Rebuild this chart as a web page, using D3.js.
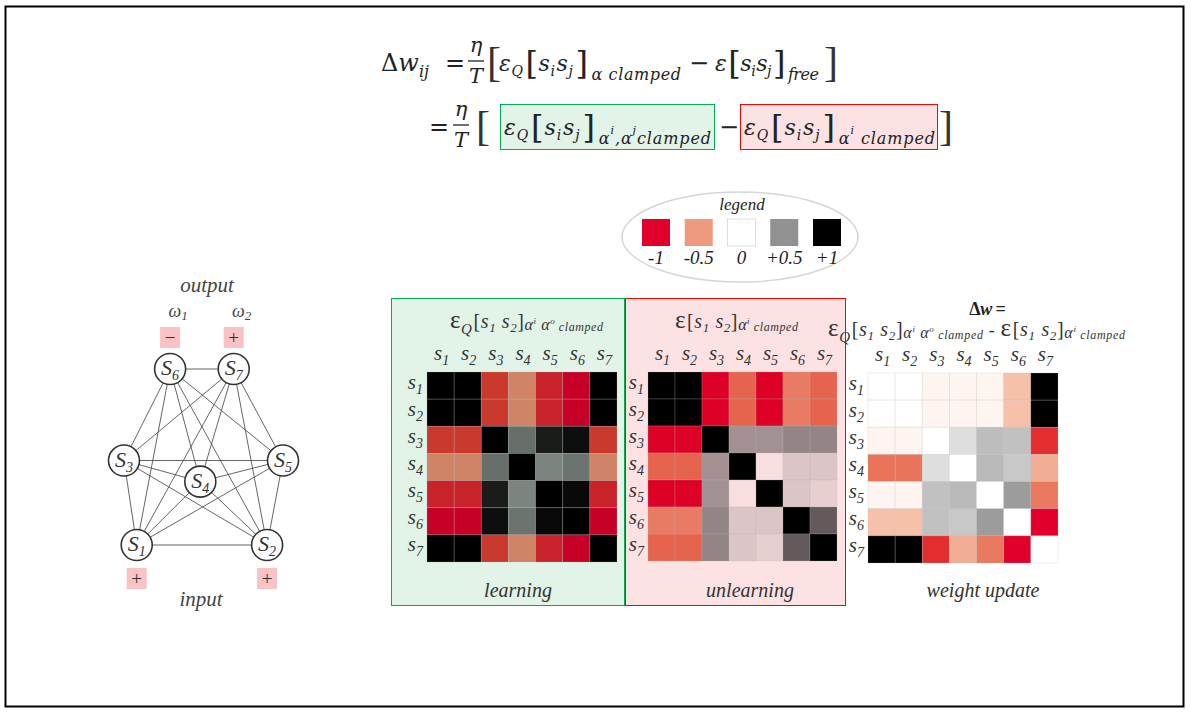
<!DOCTYPE html>
<html>
<head>
<meta charset="utf-8">
<script src="https://cdn.jsdelivr.net/npm/d3@7"></script>
<style>
body { margin: 0; background: #fff; }
svg text { font-family: "Liberation Serif", "Times New Roman", serif; }
svg .eq text { font-family: "DejaVu Serif", serif; }
</style>
</head>
<body>
<svg id="fig" width="1191" height="716"></svg>
<script>
// ---- data ----
var unitIdx = ["1", "2", "3", "4", "5", "6", "7"];

// correlations, clamped on input and output (learning phase)
var learning = [
  [ 1,     1,    -0.8,  -0.55, -0.88, -1,    1    ],
  [ 1,     1,    -0.8,  -0.55, -0.88, -1,    1    ],
  [-0.8,  -0.8,   1,     0.6,   0.9,   0.95, -0.8  ],
  [-0.55, -0.55,  0.6,   1,     0.52,  0.58, -0.55 ],
  [-0.88, -0.88,  0.9,   0.52,  1,     0.97, -0.88 ],
  [-1,    -1,     0.95,  0.58,  0.97,  1,    -1    ],
  [ 1,     1,    -0.8,  -0.55, -0.88, -1,    1    ]
];

// correlations, clamped on input only (unlearning phase)
var unlearning = [
  [ 1,     1,    -1,    -0.63, -1,    -0.55, -0.63 ],
  [ 1,     1,    -1,    -0.63, -1,    -0.55, -0.63 ],
  [-1,    -1,     1,     0.42,  0.42,  0.48,  0.48 ],
  [-0.63, -0.63,  0.42,  1,     0.02,  0.15,  0.15 ],
  [-1,    -1,     0.42,  0.02,  1,     0.15,  0.1  ],
  [-0.55, -0.55,  0.48,  0.15,  0.15,  1,     0.65 ],
  [-0.63, -0.63,  0.48,  0.15,  0.1,   0.65,  1    ]
];

// weight update = learning - unlearning
var update = [
  [ 0,     0,    -0.05, -0.05, -0.05, -0.3,   1    ],
  [ 0,     0,    -0.05, -0.05, -0.05, -0.3,   1    ],
  [-0.05, -0.05,  0,     0.15,  0.3,   0.28, -0.85 ],
  [-0.62, -0.62,  0.15,  0,     0.32,  0.25, -0.4  ],
  [-0.05, -0.05,  0.28,  0.32,  0,     0.45, -0.6  ],
  [-0.3,  -0.3,   0.28,  0.25,  0.45,  0,    -1    ],
  [ 1,     1,    -0.85, -0.4,  -0.6,  -1,     0    ]
];

var legendValues = [-1, -0.5, 0, 0.5, 1];
var legendLabels = ["-1", "-0.5", "0", "+0.5", "+1"];

// network: units with relative layout, edges, clamped signs
var netUnits = [
  { id: "6", u: 0.29, v: 0 },    { id: "7", u: 0.69, v: 0 },
  { id: "3", u: 0,    v: 0.52 }, { id: "5", u: 1,    v: 0.52 },
  { id: "4", u: 0.48, v: 0.64 },
  { id: "1", u: 0.08, v: 1 },    { id: "2", u: 0.90, v: 1 }
];
var netEdges = [
  ["6","7"],["6","3"],["6","1"],["6","4"],["6","2"],["6","5"],
  ["7","3"],["7","1"],["7","4"],["7","2"],["7","5"],
  ["3","5"],["3","4"],["4","5"],["3","1"],["3","2"],
  ["5","1"],["5","2"],["4","1"],["4","2"],["1","2"]
];
var outputSigns = [{ id: "6", sign: "\u2212", w: "1" }, { id: "7", sign: "+", w: "2" }];
var inputSigns = [{ id: "1", sign: "+" }, { id: "2", sign: "+" }];

// ---- scales / helpers ----
var color = d3.scaleLinear()
  .domain([-1, -0.75, -0.5, -0.25, 0, 0.5, 1])
  .range(["#e1002b", "#e44b32", "#ed9a7f", "#f8cbb5", "#ffffff", "#919191", "#000000"])
  .clamp(true);

function tint(c, t) {
  var a = d3.rgb(c), b = d3.rgb(t);
  return d3.rgb(a.r * b.r / 255, a.g * b.g / 255, a.b * b.b / 255).toString();
}

var svg = d3.select("#fig");

// flowing text made of tspans: [text, size, shift, style, dx]
function flow(g, x, y, parts, fill, anchor, len) {
  var t = g.append("text").attr("x", x).attr("y", y)
    .attr("fill", fill || "#222")
    .style("text-anchor", anchor || "start");
  if (len) t.attr("textLength", len).attr("lengthAdjust", "spacing");
  parts.forEach(function(p) {
    var st = p[3] || "i";
    var s = t.append("tspan")
      .attr("y", y + (p[2] || 0))
      .attr("font-size", p[1])
      .attr("font-style", st.indexOf("i") >= 0 ? "italic" : "normal")
      .attr("font-weight", st.indexOf("b") >= 0 ? "bold" : "normal")
      .text(p[0]);
    if (p[4]) s.attr("dx", p[4]);
  });
  return t;
}

// frame
svg.append("rect").attr("x", 5.5).attr("y", 6.5).attr("width", 1178).attr("height", 700)
  .attr("fill", "none").attr("stroke", "#000").attr("stroke-width", 2);

// ---- equation ----
var eq = svg.append("g").attr("class", "eq");
var sij = [["[", 32, 3, "n", 2], ["s", 22, 0], ["i", 14, 5], ["s", 22, 0, "i", 1], ["j", 14, 5], ["]", 32, 3, "n", 2]];

flow(eq, 381, 71, [["\u0394", 24, 0, "n"], ["w", 24, 0], ["ij", 16, 6]]);
eq.append("text").attr("x", 445).attr("y", 71).attr("font-size", 24).attr("fill", "#222").text("=");
function fraction(cx, ly) {
  eq.append("text").attr("x", cx).attr("y", ly - 9).attr("font-size", 21).attr("font-style", "italic")
    .attr("fill", "#222").style("text-anchor", "middle").text("\u03b7");
  eq.append("line").attr("x1", cx - 8).attr("x2", cx + 8).attr("y1", ly).attr("y2", ly)
    .attr("stroke", "#222").attr("stroke-width", 1.3);
  eq.append("text").attr("x", cx).attr("y", ly + 22).attr("font-size", 21).attr("font-style", "italic")
    .attr("fill", "#222").style("text-anchor", "middle").text("T");
}
function bigBracket(x, y, ch) {
  eq.append("text").attr("x", x).attr("y", y).attr("font-size", 42).attr("fill", "#333")
    .style("font-family", "Liberation Serif").text(ch);
}
fraction(476, 61);
bigBracket(487, 76, "[");
flow(eq, 499, 71, [["\u03b5", 22, 0], ["Q", 14, 5]].concat(sij, [["\u03b1 clamped", 16, 9, "i", 3]]), "#222", "start", 182);
eq.append("text").attr("x", 689).attr("y", 71).attr("font-size", 24).attr("fill", "#222").text("\u2212");
flow(eq, 715, 71, [["\u03b5", 22, 0]].concat(sij, [["free", 16, 9, "i", 3]]), "#222", "start", 104);
bigBracket(824, 76, "]");

// second line
eq.append("text").attr("x", 429).attr("y", 135).attr("font-size", 24).attr("fill", "#222").text("=");
fraction(461, 125);
bigBracket(476, 140, "[");
eq.append("rect").attr("x", 500.5).attr("y", 104.5).attr("width", 214).attr("height", 45)
  .attr("fill", "#e2f3e8").attr("stroke", "#00b050");
flow(eq, 504, 135, [["\u03b5", 22, 0], ["Q", 14, 5]].concat(sij,
  [["\u03b1", 16, 9, "i", 3], ["i", 11, -1], [",\u03b1", 16, 9], ["j", 11, -1], ["clamped", 16, 9]]), "#222", "start", 207);
eq.append("text").attr("x", 719).attr("y", 135).attr("font-size", 24).attr("fill", "#222").text("\u2212");
eq.append("rect").attr("x", 740.5).attr("y", 104.5).attr("width", 197).attr("height", 45)
  .attr("fill", "#fde2e4").attr("stroke", "#ff0000");
flow(eq, 744, 135, [["\u03b5", 22, 0], ["Q", 14, 5]].concat(sij,
  [["\u03b1", 16, 9, "i", 3], ["i", 11, -1], [" clamped", 16, 9]]), "#222", "start", 191);
bigBracket(939, 140, "]");

// ---- legend ----
var leg = svg.append("g");
leg.append("ellipse").attr("cx", 740).attr("cy", 237).attr("rx", 118).attr("ry", 45)
  .attr("fill", "#fff").attr("stroke", "#d6d6d6").attr("stroke-width", 1.5);
leg.append("text").attr("x", 742).attr("y", 210).attr("font-size", 17).attr("font-style", "italic")
  .attr("fill", "#222").style("text-anchor", "middle").text("legend");
var lx = d3.scalePoint().domain(legendValues).range([656, 827]);
leg.selectAll("rect.key").data(legendValues).enter().append("rect")
  .attr("class", "key")
  .attr("x", function(d) { return lx(d) - 14; }).attr("y", 219)
  .attr("width", 28).attr("height", 27)
  .attr("fill", function(d) { return color(d); })
  .attr("stroke", function(d) { return d === 0 ? "#ddd" : "none"; });
leg.selectAll("text.kl").data(legendValues).enter().append("text")
  .attr("class", "kl")
  .attr("x", function(d) { return lx(d); }).attr("y", 264)
  .attr("font-size", 19).attr("font-style", "italic").attr("fill", "#222")
  .style("text-anchor", "middle")
  .text(function(d, i) { return legendLabels[i]; });

// ---- network ----
var net = svg.append("g");
var nx = d3.scaleLinear().domain([0, 1]).range([124, 283]);
var ny = d3.scaleLinear().domain([0, 1]).range([369, 545]);
var byId = {};
netUnits.forEach(function(d) { byId[d.id] = d; });

net.selectAll("line").data(netEdges).enter().append("line")
  .attr("x1", function(d) { return nx(byId[d[0]].u); })
  .attr("y1", function(d) { return ny(byId[d[0]].v); })
  .attr("x2", function(d) { return nx(byId[d[1]].u); })
  .attr("y2", function(d) { return ny(byId[d[1]].v); })
  .attr("stroke", "#555").attr("stroke-width", 0.9);

var nodeG = net.selectAll("g.unit").data(netUnits).enter().append("g")
  .attr("class", "unit")
  .attr("transform", function(d) { return "translate(" + nx(d.u) + "," + ny(d.v) + ")"; });
nodeG.append("circle").attr("r", 15.5).attr("fill", "#fff").attr("stroke", "#333").attr("stroke-width", 1.6);
nodeG.each(function(d) {
  var t = d3.select(this).append("text").attr("y", 6).attr("fill", "#333").style("text-anchor", "middle");
  t.append("tspan").attr("font-size", 22).attr("font-style", "italic").text("S");
  t.append("tspan").attr("font-size", 14).attr("font-style", "italic").attr("dy", 5).text(d.id);
});

function signBox(d, cy) {
  var x = nx(byId[d.id].u);
  net.append("rect").attr("x", x - 10).attr("y", cy - 11).attr("width", 20).attr("height", 21)
    .attr("fill", "#f9c2c4");
  net.append("text").attr("x", x).attr("y", cy + 6).attr("font-size", 19).attr("fill", "#333")
    .style("text-anchor", "middle").text(d.sign);
}
outputSigns.forEach(function(d) {
  signBox(d, 338);
  var t = net.append("text").attr("x", nx(byId[d.id].u) + 8).attr("y", 317).attr("fill", "#444")
    .style("text-anchor", "middle");
  t.append("tspan").attr("font-size", 18).attr("font-style", "italic").text("\u03c9");
  t.append("tspan").attr("font-size", 13).attr("font-style", "italic").attr("dy", 3).text(d.w);
});
inputSigns.forEach(function(d) { signBox(d, 579); });
net.append("text").attr("x", 207).attr("y", 292).attr("font-size", 21).attr("font-style", "italic")
  .attr("fill", "#444").style("text-anchor", "middle").text("output");
net.append("text").attr("x", 201).attr("y", 606).attr("font-size", 21).attr("font-style", "italic")
  .attr("fill", "#444").style("text-anchor", "middle").text("input");

// ---- matrices ----
function drawMatrix(x0, y0, size, values, tc) {
  var g = svg.append("g").attr("transform", "translate(" + x0 + "," + y0 + ")");
  var band = d3.scaleBand().domain(d3.range(7)).range([0, size]);
  var cells = [];
  values.forEach(function(row, r) { row.forEach(function(v, c) { cells.push({ r: r, c: c, v: v }); }); });
  g.selectAll("rect").data(cells).enter().append("rect")
    .attr("x", function(d) { return band(d.c); })
    .attr("y", function(d) { return band(d.r); })
    .attr("width", band.bandwidth()).attr("height", band.bandwidth())
    .attr("fill", function(d) { return tint(color(d.v), tc); })
    .attr("stroke", "#bbb").attr("stroke-opacity", 0.3).attr("stroke-width", 0.8);
  g.selectAll("text.col").data(unitIdx).enter().append("text")
    .attr("class", "col")
    .attr("x", function(d, i) { return band(i) + band.bandwidth() / 2 + 1; })
    .attr("y", -12).attr("fill", "#333").style("text-anchor", "middle")
    .each(function(d) {
      var t = d3.select(this);
      t.append("tspan").attr("font-size", 21).attr("font-style", "italic").text("s");
      t.append("tspan").attr("font-size", 14).attr("font-style", "italic").attr("dy", 5).text(d);
    });
  g.selectAll("text.row").data(unitIdx).enter().append("text")
    .attr("class", "row")
    .attr("x", -4)
    .attr("y", function(d, i) { return band(i) + band.bandwidth() / 2 + 3; })
    .attr("fill", "#333").style("text-anchor", "end")
    .each(function(d) {
      var t = d3.select(this);
      t.append("tspan").attr("font-size", 21).attr("font-style", "italic").text("s");
      t.append("tspan").attr("font-size", 14).attr("font-style", "italic").attr("dy", 5).text(d);
    });
  return g;
}

// panels
svg.append("rect").attr("x", 391.5).attr("y", 298.5).attr("width", 233).attr("height", 307)
  .attr("fill", "#e2f3e8").attr("stroke", "#00b050");
svg.append("rect").attr("x", 625.5).attr("y", 298.5).attr("width", 220).attr("height", 307)
  .attr("fill", "#fde2e4").attr("stroke", "#ff0000");

drawMatrix(427, 372, 190, learning, "#e2f3e8");
drawMatrix(648, 372, 189, unlearning, "#fde2e4");
drawMatrix(868, 373, 190, update, "#ffffff");

var titleL = [["\u03b5", 25, 0, "n"], ["Q", 15, 6], ["[", 20, 0, "n", 1], ["s", 20, 0], ["1", 13, 4],
  [" s", 20, 0], ["2", 13, 4], ["]", 20, 0, "n"], ["\u03b1", 16, 2], ["i", 9, -4], [" \u03b1", 16, 2],
  ["o", 9, -4], ["  clamped", 12, 3]];
var titleU = [["\u03b5", 25, 0, "n"], ["[", 20, 0, "n", 1], ["s", 20, 0], ["1", 13, 4],
  [" s", 20, 0], ["2", 13, 4], ["]", 20, 0, "n"], ["\u03b1", 16, 2], ["i", 9, -4], ["  clamped", 12, 3]];
flow(svg, 450, 328, titleL, "#333", "start", 153);
flow(svg, 675, 328, titleU, "#333", "start", 123);
flow(svg, 975, 315, [["\u0394", 18, 0, "b"], ["w", 18, 0, "bi"], [" =", 18, 0, "b"]], "#222", "middle");
flow(svg, 828, 336, titleL.concat([[" - ", 18, 0, "n"]], titleU), "#333", "start", 297);

[["learning", 518], ["unlearning", 750], ["weight update", 983]].forEach(function(d) {
  svg.append("text").attr("x", d[1]).attr("y", 597).attr("font-size", 20).attr("font-style", "italic")
    .attr("fill", "#333").style("text-anchor", "middle").text(d[0]);
});
</script>
</body>
</html>
